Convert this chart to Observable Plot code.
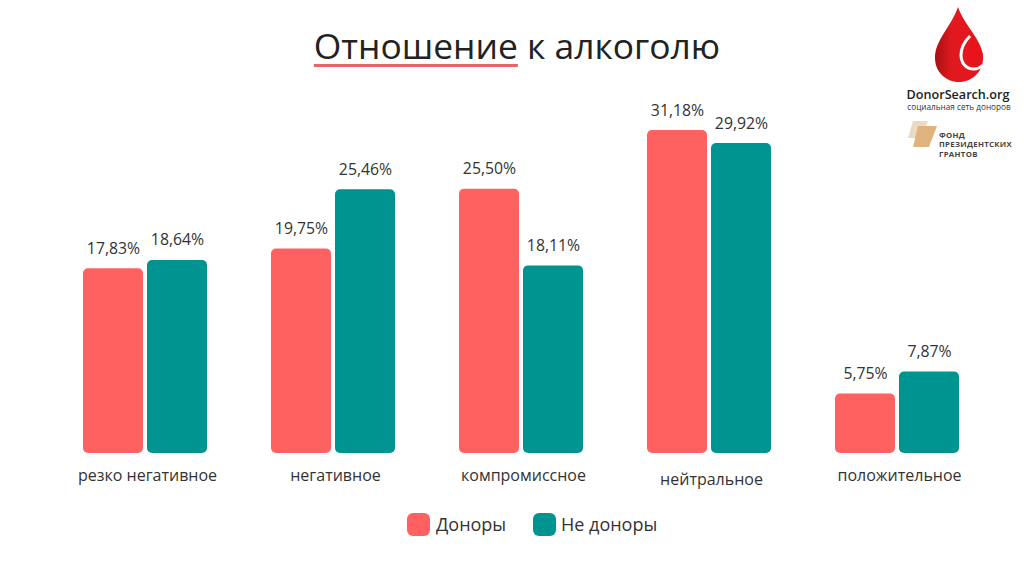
<!DOCTYPE html>
<html lang="ru">
<head>
<meta charset="utf-8">
<script src="https://cdn.jsdelivr.net/npm/d3@7"></script>
<script src="https://cdn.jsdelivr.net/npm/@observablehq/plot@0.6"></script>
<style>
html,body{margin:0;padding:0;background:#fff;width:1024px;height:565px;overflow:hidden;font-family:"Open Sans",sans-serif;color:#2b2b2b}
#page{position:relative;width:1024px;height:565px}
#title{position:absolute;left:0;top:20px;width:1034px;text-align:center;font-size:35.4px;line-height:50px;white-space:nowrap;color:#222}
#title span{text-decoration:underline;text-decoration-color:#e8636a;text-decoration-thickness:3px;text-underline-offset:5px;text-decoration-skip-ink:none}
#chart{position:absolute;left:0;top:90px}
#chart svg{display:block}
.lg{position:absolute;top:513px;width:23px;height:23px;border-radius:6px}
.lt{position:absolute;top:510px;font-size:18px;line-height:28px;white-space:nowrap;color:#333}
#logo{position:absolute;left:0;top:0;pointer-events:none}
</style>
</head>
<body>
<div id="page">
  <div id="title"><span>Отношение</span> к алкоголю</div>
  <div id="chart"></div>
  <div id="legend"></div>
  <svg id="logo" width="1024" height="170" viewBox="0 0 1024 170">
    <defs><linearGradient id="dg" x1="0" x2="1"><stop offset="0" stop-color="#a80f14"/><stop offset=".35" stop-color="#e01a1f"/><stop offset="1" stop-color="#e8141c"/></linearGradient></defs>
    <path d="M958 7C951 27 935 40 935 58C935 72 946 82 959 82C972 82 983 72 983 58C983 40 965 27 958 7Z" fill="url(#dg)"/>
    <path d="M970 36C964 42 961 49 961 55C961 63 966 69 974 69C977 69 980 68 983 65" fill="none" stroke="#fff" stroke-width="3"/>
    <path d="M974 37C971 45 967 49 967 56C967 62 970 65 975 65C980 65 983 61 983 56C983 49 977 45 974 37Z" fill="#e8141c"/>
    <text x="958" y="99" text-anchor="middle" font-family="Open Sans" font-weight="600" font-size="12.6" fill="#222">DonorSearch.org</text>
    <text x="959" y="110" text-anchor="middle" font-family="Open Sans" font-size="8.2" fill="#333">социальная сеть доноров</text>
    <path d="M913 121H928L921 138H908Z" fill="#ead9c4"/>
    <path d="M918 126H937L929 147H913Z" fill="#dfb27e"/>
    <g font-family="Open Sans" font-weight="700" font-size="7.8" fill="#444" letter-spacing=".3">
      <text x="939" y="138">ФОНД</text><text x="939" y="147">ПРЕЗИДЕНТСКИХ</text><text x="939" y="157">ГРАНТОВ</text>
    </g>
  </svg>
</div>
<script>
const categories = ["резко негативное", "негативное", "компромиссное", "нейтральное", "положительное"];
const series = ["Доноры", "Не доноры"];
const donors = [17.83, 19.75, 25.50, 31.18, 5.75];
const nonDonors = [18.64, 25.46, 18.11, 29.92, 7.87];
const colors = ["#ff6161", "#009490"];

const rows = categories.flatMap((c, i) => [
  {category: c, series: series[0], value: donors[i]},
  {category: c, series: series[1], value: nonDonors[i]}
]);
const pct = d => d.value.toFixed(2).replace(".", ",") + "%";
const font = "'Open Sans', sans-serif";

const plot = Plot.plot({
  width: 1024,
  height: 400,
  marginLeft: 50,
  marginRight: 33,
  marginTop: 10.8,
  marginBottom: 37,
  style: {background: "transparent", fontFamily: font},
  fx: {domain: categories, padding: 0, axis: null},
  x: {domain: series, paddingInner: 0.07, paddingOuter: 0.5, axis: null},
  y: {domain: [0, 34], axis: null},
  color: {domain: series, range: colors},
  marks: [
    Plot.barY(rows, {fx: "category", x: "series", y: "value", fill: "series", rx: 5}),
    Plot.text(rows, {fx: "category", x: "series", y: "value", text: pct, dy: -20,
      fontSize: 15.8, fill: "#333", fontFamily: font}),
    Plot.text(categories.filter(c => c !== "нейтральное"), {fx: d => d, text: d => d, frameAnchor: "bottom", dy: 27, dx: 2,
      fontSize: 16, fill: "#333", fontFamily: font}),
    Plot.text(categories.filter(c => c === "нейтральное"), {fx: d => d, text: d => d, frameAnchor: "bottom", dy: 31, dx: 2,
      fontSize: 16, fill: "#333", fontFamily: font})
  ]
});
document.getElementById("chart").appendChild(plot);

const legend = document.getElementById("legend");
[[407, 436], [533, 561]].forEach(([sx, tx], i) => {
  const s = document.createElement("div");
  s.className = "lg"; s.style.left = sx + "px"; s.style.background = colors[i];
  const t = document.createElement("div");
  t.className = "lt"; t.style.left = tx + "px"; t.textContent = series[i];
  legend.append(s, t);
});
</script>
</body>
</html>
